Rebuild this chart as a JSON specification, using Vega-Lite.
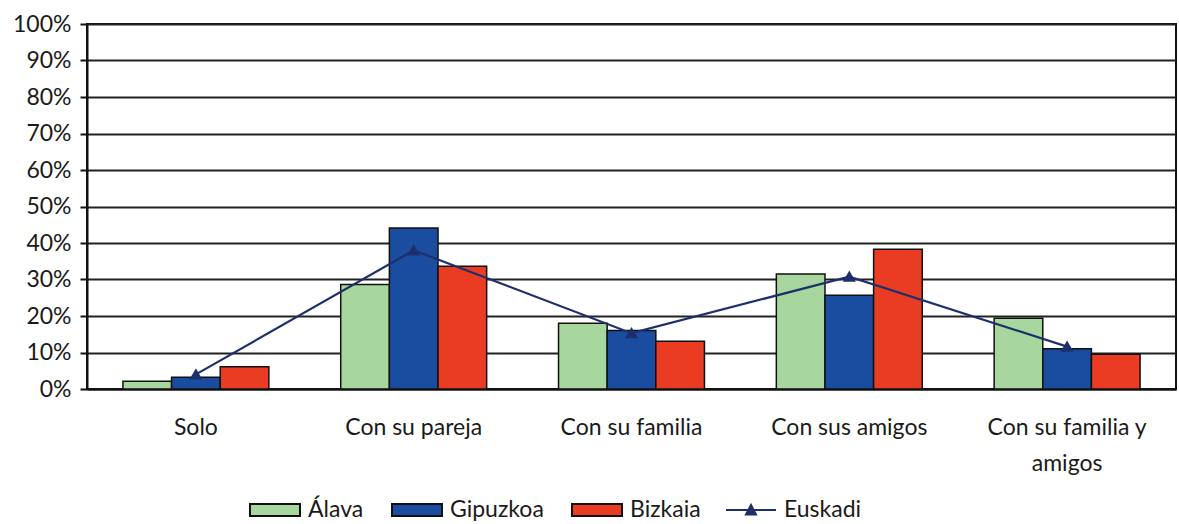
{
  "$schema": "https://vega.github.io/schema/vega-lite/v6.json",
  "width": 1089,
  "height": 365,
  "autosize": {"type": "none"},
  "padding": {"left": 87, "top": 24, "right": 3, "bottom": 135},
  "background": "white",
  "config": {
    "font": "Lato",
    "view": {"stroke": "#111", "strokeWidth": 2},
    "axis": {"labelFont": "Lato", "labelColor": "#1a1a1a"},
    "legend": {"labelFont": "Lato", "labelColor": "#1a1a1a", "labelFontSize": 23, "labelOffset": 7, "symbolSize": 2500, "symbolStrokeWidth": 2, "title": null}
  },
  "data": {
    "values": [
      {"cat": "Solo", "serie": "Álava", "valor": 0.021},
      {"cat": "Solo", "serie": "Gipuzkoa", "valor": 0.032},
      {"cat": "Solo", "serie": "Bizkaia", "valor": 0.061},
      {"cat": "Solo", "serie": "Euskadi", "valor": 0.040},
      {"cat": "Con su pareja", "serie": "Álava", "valor": 0.286},
      {"cat": "Con su pareja", "serie": "Gipuzkoa", "valor": 0.441},
      {"cat": "Con su pareja", "serie": "Bizkaia", "valor": 0.336},
      {"cat": "Con su pareja", "serie": "Euskadi", "valor": 0.380},
      {"cat": "Con su familia", "serie": "Álava", "valor": 0.180},
      {"cat": "Con su familia", "serie": "Gipuzkoa", "valor": 0.160},
      {"cat": "Con su familia", "serie": "Bizkaia", "valor": 0.131},
      {"cat": "Con su familia", "serie": "Euskadi", "valor": 0.153},
      {"cat": "Con sus amigos", "serie": "Álava", "valor": 0.315},
      {"cat": "Con sus amigos", "serie": "Gipuzkoa", "valor": 0.257},
      {"cat": "Con sus amigos", "serie": "Bizkaia", "valor": 0.383},
      {"cat": "Con sus amigos", "serie": "Euskadi", "valor": 0.308},
      {"cat": "Con su familia y amigos", "serie": "Álava", "valor": 0.194},
      {"cat": "Con su familia y amigos", "serie": "Gipuzkoa", "valor": 0.110},
      {"cat": "Con su familia y amigos", "serie": "Bizkaia", "valor": 0.095},
      {"cat": "Con su familia y amigos", "serie": "Euskadi", "valor": 0.116}
    ]
  },
  "encoding": {
    "x": {
      "field": "cat",
      "type": "nominal",
      "sort": ["Solo", "Con su pareja", "Con su familia", "Con sus amigos", "Con su familia y amigos"],
      "scale": {"paddingInner": 0.33, "paddingOuter": 0.165},
      "axis": {
        "title": null,
        "labelAngle": 0,
        "labelFontSize": 23,
        "labelPadding": 27,
        "labelLineHeight": 36,
        "labelBaseline": "top",
        "ticks": false,
        "domain": true,
        "domainColor": "#111",
        "domainWidth": 2,
        "labelExpr": "datum.label == 'Con su familia y amigos' ? ['Con su familia y', 'amigos'] : datum.label"
      }
    },
    "y": {
      "field": "valor",
      "type": "quantitative",
      "scale": {"domain": [0, 1], "nice": false},
      "axis": {
        "title": null,
        "values": [0, 0.1, 0.2, 0.3, 0.4, 0.5, 0.6, 0.7, 0.8, 0.9, 1],
        "format": ".0%",
        "labelFontSize": 23,
        "labelPadding": 9,
        "tickSize": 7,
        "tickColor": "#111",
        "tickWidth": 2,
        "domainColor": "#111",
        "domainWidth": 2,
        "gridColor": "#222",
        "gridWidth": 2,
        "gridOpacity": 1
      }
    }
  },
  "layer": [
    {
      "transform": [{"filter": "datum.serie !== 'Euskadi'"}],
      "mark": {"type": "bar", "stroke": "#111", "strokeWidth": 1.5},
      "encoding": {
        "xOffset": {"field": "serie", "type": "nominal", "sort": ["Álava", "Gipuzkoa", "Bizkaia"], "scale": {"paddingInner": 0, "paddingOuter": 0}},
        "fill": {
          "field": "serie",
          "type": "nominal",
          "scale": {"domain": ["Álava", "Gipuzkoa", "Bizkaia"], "range": ["#a8d69f", "#1a4ca0", "#e93c23"]},
          "legend": {
            "orient": "none",
            "legendX": 162,
            "legendY": 460,
            "direction": "horizontal",
            "columns": 3,
            "columnPadding": 24,
            "symbolStrokeColor": "#111",
            "encode": {
              "symbols": {
                "update": {
                  "shape": {"value": "M-1,-0.24H1V0.24H-1Z"},
                  "stroke": {"value": "#111111"},
                  "strokeWidth": {"value": 2}
                }
              }
            }
          }
        }
      }
    },
    {
      "transform": [{"filter": "datum.serie === 'Euskadi'"}],
      "mark": {"type": "line", "strokeWidth": 2.2, "point": {"shape": "triangle-up", "size": 90, "filled": true, "color": "#1f2f6b"}},
      "encoding": {
        "stroke": {
          "field": "serie",
          "type": "nominal",
          "scale": {"domain": ["Euskadi"], "range": ["#1f2f6b"]},
          "legend": {
            "orient": "none",
            "legendX": 638,
            "legendY": 460,
            "encode": {
              "symbols": {
                "update": {
                  "shape": {"value": "M-1,0H1M-0.2,0.18L0,-0.2L0.2,0.18Z"},
                  "fill": {"value": "#1f2f6b"},
                  "strokeWidth": {"value": 2}
                }
              }
            }
          }
        }
      }
    }
  ]
}
